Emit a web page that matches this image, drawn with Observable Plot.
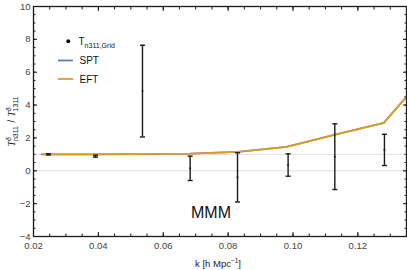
<!DOCTYPE html>
<html><head><meta charset="utf-8">
<script src="https://cdn.jsdelivr.net/npm/d3@7"></script>
<script src="https://cdn.jsdelivr.net/npm/@observablehq/plot@0.6"></script>
<style>
body{margin:0;background:#fff;}
#chart{position:relative;width:407px;height:270px;}
</style></head><body><div id="chart"></div>
<script>
// Grid measurement T_n311,Grid with error bars
const kGrid = [0.0246, 0.0391, 0.0536, 0.0683, 0.0829, 0.0985, 0.1129, 0.1282];
const tGrid = [1.00, 0.89, 4.85, 0.15, -0.40, 0.35, 0.86, 1.27];
const tErr  = [0.03, 0.06, 2.79, 0.74, 1.50, 0.68, 2.00, 0.95];
// Model curves (SPT lies under EFT)
const kModel = [0.0225, 0.039, 0.0537, 0.0683, 0.083, 0.098, 0.113, 0.128, 0.1425];
const sptValues = [1.00, 1.00, 1.01, 1.04, 1.15, 1.46, 2.20, 2.92, 6.20];
const eftValues = [1.00, 1.00, 1.01, 1.04, 1.15, 1.46, 2.20, 2.92, 6.20];
// Axis ticks
const xTicks = [0.02, 0.04, 0.06, 0.08, 0.10, 0.12];
const xMinor = d3.range(0.02, 0.1351, 0.005).map(v => +v.toFixed(3));
const yTicks = [-4, -2, 0, 2, 4, 6, 8, 10];
const yMinor = d3.range(-4, 10.01, 0.5);
const gridY = [0, 1];
const labels = {series: ["T", "SPT", "EFT"], annotation: "MMM"};

const grid = kGrid.map((k, i) => ({k, t: tGrid[i], e: tErr[i]}));
const model = kModel.map((k, i) => ({k, spt: sptValues[i], eft: eftValues[i]}));

const ink = "#1a1a1a";
const capSymbol = {draw(ctx) { ctx.moveTo(-2.5, 0); ctx.lineTo(2.5, 0); }};

const plot = Plot.plot({
  width: 407, height: 270,
  marginLeft: 33, marginRight: 1, marginTop: 6, marginBottom: 34,
  x: {domain: [0.02, 0.135]},
  y: {domain: [-4, 10]},
  style: {fontFamily: "'Liberation Sans', Arial, sans-serif", fontSize: "9.5px", color: "#444", background: "white"},
  marks: [
    Plot.ruleY(gridY, {stroke: "#dedede", strokeWidth: 1}),
    Plot.line(model, {x: "k", y: "spt", stroke: "#5E81B5", strokeWidth: 1.8, clip: true}),
    Plot.line(model, {x: "k", y: "eft", stroke: "#E19C24", strokeWidth: 1.8, clip: true}),
    Plot.ruleX(grid, {x: "k", y1: d => d.t - d.e, y2: d => d.t + d.e, stroke: ink, strokeWidth: 1.4}),
    Plot.dot(grid, {x: "k", y: d => d.t - d.e, symbol: capSymbol, fill: "none", stroke: ink, strokeWidth: 1.4}),
    Plot.dot(grid, {x: "k", y: d => d.t + d.e, symbol: capSymbol, fill: "none", stroke: ink, strokeWidth: 1.4}),
    Plot.dot(grid, {x: "k", y: "t", r: 1, fill: ink}),
    Plot.text([labels.annotation], {frameAnchor: "bottom", dx: -9, dy: -23.5, lineAnchor: "middle",
      fontSize: 16, fill: "#111", text: d => d}),
    Plot.axisX({ticks: xTicks, anchor: "bottom", tickSize: -4, tickPadding: 10, tickFormat: d => d.toFixed(2),
      stroke: ink, fill: "#444", label: null}),
    Plot.axisX({ticks: xMinor, anchor: "bottom", tickSize: -2.5, stroke: ink, fill: "none"}),
    Plot.axisX({ticks: xTicks, anchor: "top", tickSize: -4, stroke: ink, fill: "none"}),
    Plot.axisX({ticks: xMinor, anchor: "top", tickSize: -2.5, stroke: ink, fill: "none"}),
    Plot.axisY({ticks: yTicks, anchor: "left", tickSize: -4, tickPadding: 7, tickFormat: d => d < 0 ? "\u2212" + Math.abs(d) : String(d),
      stroke: ink, fill: "#444", label: null}),
    Plot.axisY({ticks: yMinor, anchor: "left", tickSize: -2.5, stroke: ink, fill: "none"}),
    Plot.axisY({ticks: yTicks, anchor: "right", tickSize: -4, stroke: ink, fill: "none"}),
    Plot.axisY({ticks: yMinor, anchor: "right", tickSize: -2.5, stroke: ink, fill: "none"}),
    Plot.frame({stroke: ink, strokeWidth: 1.3})
  ]
});
document.getElementById("chart").appendChild(plot);

const svg = d3.select(plot);
const font = "'Liberation Sans', Arial, sans-serif";

// y label
const yl = svg.append("text")
  .attr("transform", "translate(15,121) rotate(-90)")
  .attr("text-anchor", "middle").attr("font-family", font).attr("font-size", 10).attr("fill", "#222");
function tSym(sel, sub) {
  sel.append("tspan").attr("font-style", "italic").attr("font-family", "'Liberation Serif', serif").text("T");
  sel.append("tspan").attr("font-size", 7).attr("dy", -4).attr("font-style", "italic").text("\u03b4");
  sel.append("tspan").attr("font-size", 7).attr("dx", -4).attr("dy", 6.5).text(sub);
  sel.append("tspan").attr("dy", -2.5).text("\u200a");
}
tSym(yl, "n311");
yl.append("tspan").text(" / ");
tSym(yl, "1311");

// x label
const xl = svg.append("text").attr("x", 218).attr("y", 267).attr("text-anchor", "middle")
  .attr("font-family", font).attr("font-size", 9.5).attr("fill", "#222");
xl.append("tspan").text("k [h Mpc");
xl.append("tspan").attr("font-size", 6.5).attr("dy", -4).text("\u22121");
xl.append("tspan").attr("dy", 4).text("]");

// legend
const lg = svg.append("g").attr("font-family", font).attr("font-size", 10).attr("fill", "#111")
  .attr("text-anchor", "start");
lg.append("circle").attr("cx", 68.3).attr("cy", 41.3).attr("r", 2).attr("fill", "#111");
const t1 = lg.append("text").attr("x", 78.5).attr("y", 45);
t1.append("tspan").text(labels.series[0]);
t1.append("tspan").attr("font-size", 7).attr("dy", 2.5).text("n311,Grid");
lg.append("line").attr("x1", 58).attr("x2", 73).attr("y1", 60.5).attr("y2", 60.5).attr("stroke", "#5E81B5").attr("stroke-width", 1.8);
lg.append("text").attr("x", 79.5).attr("y", 64).text(labels.series[1]);
lg.append("line").attr("x1", 58).attr("x2", 73).attr("y1", 79).attr("y2", 79).attr("stroke", "#E19C24").attr("stroke-width", 1.8);
lg.append("text").attr("x", 79.5).attr("y", 82.5).text(labels.series[2]);
</script></body></html>
